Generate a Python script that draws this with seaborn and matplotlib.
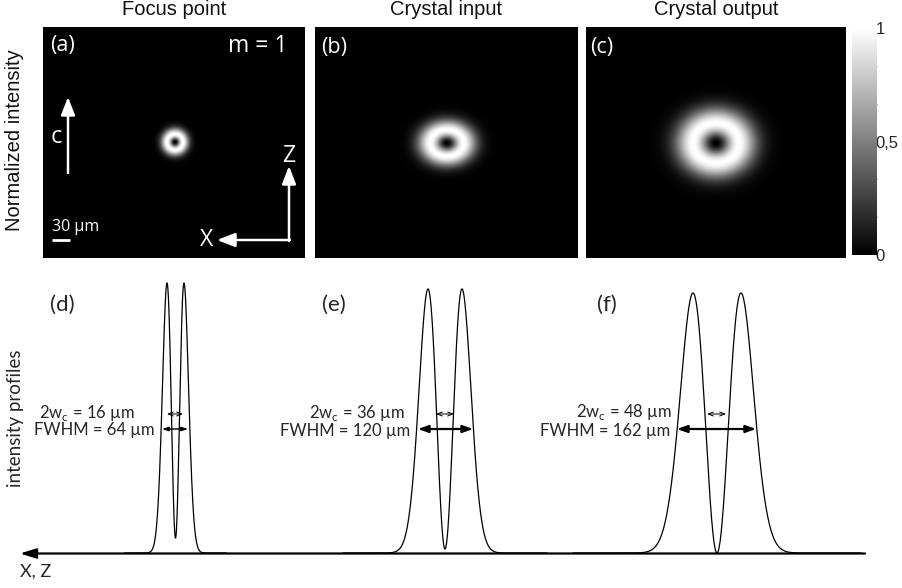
import numpy as np
import pandas as pd
import matplotlib
matplotlib.use("Agg")
import matplotlib.pyplot as plt
import seaborn as sns
from matplotlib.ticker import FixedLocator

# ---------------- data ----------------
panel_titles = ["Focus point", "Crystal input", "Crystal output"]
panel_letters = ["(a)", "(b)", "(c)"]
ring_radius_x = [8.0, 16.8, 23.0]     # ring peak radius (image px)
ring_radius_y = [8.0, 13.3, 20.0]
cbar_ticks = [0, 0.5, 1]
cbar_ticklabels = ["0", "0,5", "1"]

profile_letters = ["(d)", "(e)", "(f)"]
profile_center = [175.5, 445.0, 717.0]
profile_half_sep = [8.5, 17.0, 24.0]
profile_peak = [1.0, 0.978, 0.963]
profile_dip = [0.055, 0.015, 0.0]
wc_values = ["16 µm", "36 µm", "48 µm"]
fwhm_values = ["64 µm", "120 µm", "162 µm"]

# ---------------- layout helpers ----------------
W, H = 903, 588
sns.set_theme(style="white")
plt.rcParams["font.family"] = ["Liberation Sans", "DejaVu Sans"]
fig = plt.figure(figsize=(W / 100, H / 100), dpi=100)


def add_ax(x0, y0, x1, y1):
    return fig.add_axes([x0 / W, 1 - y1 / H, (x1 - x0) / W, (y1 - y0) / H])


# ---------------- top row: beam images ----------------
boxes = [(43, 27, 305, 258), (315, 27, 578, 258), (586, 27, 846, 258)]
centers = [(132, 115), (132, 116), (130, 116)]
cax = add_ax(852, 28, 877, 255)
for i, (bx, c, rx, ry) in enumerate(zip(boxes, centers, ring_radius_x, ring_radius_y)):
    ax = add_ax(*bx)
    nx, ny = bx[2] - bx[0], bx[3] - bx[1]
    xx, yy = np.meshgrid(np.arange(nx) + 0.5 - c[0], np.arange(ny) + 0.5 - c[1])
    u2 = (xx / (rx * np.sqrt(2))) ** 2 + (yy / (ry * np.sqrt(2))) ** 2
    field = 2 * np.e * u2 * np.exp(-2 * u2)
    last = i == 2
    sns.heatmap(field, ax=ax, cmap="gray", vmin=0, vmax=1, cbar=last,
                cbar_ax=cax if last else None, xticklabels=False,
                yticklabels=False, rasterized=True)
    ax.set_xlabel("")
    ax.set_ylabel("")
    cx = (bx[0] + bx[2]) / 2
    fig.text(cx / W, 1 - 15 / H, panel_titles[i], ha="center", va="baseline",
             fontsize=14.5, color="#111111")

cb = fig.axes[-1].collections[0].colorbar
cb.set_ticks(cbar_ticks)
cb.set_ticklabels(cbar_ticklabels)
cb.outline.set_visible(False)
cax.tick_params(axis="y", which="major", length=0, labelsize=12, pad=-1)
cax.yaxis.set_minor_locator(FixedLocator([1 / 6, 2 / 6, 4 / 6, 5 / 6]))
cax.tick_params(axis="y", which="minor", left=True, right=True, direction="in",
                length=3, width=0.8, color="#777777")

# ---------------- bottom row: profiles ----------------
bax = add_ax(0, 283, W, 553)
rows = []
for lab, xc, s, pk, dip in zip(profile_letters, profile_center, profile_half_sep,
                               profile_peak, profile_dip):
    d0 = 0.0
    for _ in range(20):
        d0 = 0.5 * dip * np.exp(-1 + 2 * d0)
    w = s / np.sqrt(0.5 - d0)
    x = np.linspace(xc - 6 * s, xc + 6 * s, 600)
    u = (x - xc) / w
    prof = (u ** 2 + d0) * np.exp(-2 * u ** 2)
    prof = prof / prof.max() * pk
    rows.append(pd.DataFrame({"x": x, "I": prof, "profile": lab}))
df = pd.concat(rows, ignore_index=True)
sns.lineplot(data=df, x="x", y="I", units="profile", estimator=None,
             color="black", lw=0.9, ax=bax, legend=False)
bax.set_xlim(0, W)
bax.set_ylim(0, 1)
bax.axis("off")
for ln in bax.lines:
    ln.set_clip_on(False)

# overlay axes in figure pixel coordinates for annotations
ov = fig.add_axes([0, 0, 1, 1], zorder=10)
ov.set_xlim(0, W)
ov.set_ylim(H, 0)
ov.axis("off")

# axis arrow of the profiles
ov.annotate("", xy=(20, 553.5), xytext=(865, 553.5),
            arrowprops=dict(arrowstyle="-|>,head_length=0.8,head_width=0.25",
                            lw=1.6, color="black", shrinkA=0, shrinkB=0))
pfont = ["Lato", "DejaVu Sans"]
ov.text(20, 572, "X, Z", ha="left", va="center", fontsize=13, family=pfont)
ov.text(16, 418, "intensity profiles", rotation=90, ha="center", va="center",
        fontsize=13.5, family=pfont)
ov.text(15, 140, "Normalized intensity", rotation=90, ha="center", va="center",
        fontsize=14.5, color="#111111")

letter_x = [50, 322, 597]
wc_arrows = [(167, 183), (436, 454), (707, 726)]
fwhm_arrows = [(162, 188), (418, 473), (677, 756)]
fwhm_lw = [1.0, 1.6, 1.6]
fwhm_head = [(0.3, 0.1), (0.5, 0.18), (0.5, 0.18)]
wc_text = [(135, 413), (405, 413), (672, 412)]
fwhm_text = [(155, 430), (410, 431), (670, 431)]
for i in range(3):
    ov.text(letter_x[i], 305, profile_letters[i], ha="left", va="center",
            fontsize=16, family=pfont)
    ov.text(*wc_text[i], "2w$_{\\mathregular{c}}$ = " + wc_values[i], ha="right",
            va="center", fontsize=12, family=pfont)
    ov.text(*fwhm_text[i], "FWHM = " + fwhm_values[i], ha="right",
            va="center", fontsize=12, family=pfont)
    a, b = wc_arrows[i]
    ov.annotate("", xy=(a, 414), xytext=(b, 414),
                arrowprops=dict(arrowstyle="<->,head_length=0.3,head_width=0.12",
                                lw=0.7, color="black", shrinkA=0, shrinkB=0))
    a, b = fwhm_arrows[i]
    hl, hw = fwhm_head[i]
    ov.annotate("", xy=(a, 429), xytext=(b, 429),
                arrowprops=dict(arrowstyle=f"<|-|>,head_length={hl},head_width={hw}",
                                lw=fwhm_lw[i], color="black", shrinkA=0, shrinkB=0))

# top annotations (white)
ofont = ["Open Sans", "DejaVu Sans"]
ov.text(50, 46, "(a)", ha="left", va="center", fontsize=15.5, color="white", family=ofont)
ov.text(321, 47, "(b)", ha="left", va="center", fontsize=15.5, color="white", family=ofont)
ov.text(590, 48, "(c)", ha="left", va="center", fontsize=15.5, color="white", family=ofont)
ov.text(287, 46, "m = 1", ha="right", va="center", fontsize=16.5, color="white", family=ofont)
ov.text(56, 137, "c", ha="center", va="center", fontsize=17, color="white", family=ofont)
ov.annotate("", xy=(68, 97), xytext=(68, 173),
            arrowprops=dict(arrowstyle="-|>,head_length=0.9,head_width=0.35",
                            lw=1.8, color="white", shrinkA=0, shrinkB=0))
ov.annotate("", xy=(289, 166), xytext=(289, 241),
            arrowprops=dict(arrowstyle="-|>,head_length=0.9,head_width=0.35",
                            lw=1.8, color="white", shrinkA=0, shrinkB=0))
ov.annotate("", xy=(217, 240), xytext=(290, 240),
            arrowprops=dict(arrowstyle="-|>,head_length=0.9,head_width=0.35",
                            lw=1.8, color="white", shrinkA=0, shrinkB=0))
ov.text(289, 156, "Z", ha="center", va="center", fontsize=16.5, color="white", family=ofont)
ov.text(207, 240, "X", ha="center", va="center", fontsize=16.5, color="white", family=ofont)
ov.text(52, 227, "30 µm", ha="left", va="center", fontsize=11.5, color="white", family=ofont)
ov.plot([52, 70], [239.5, 239.5], color="white", lw=2, solid_capstyle="butt")

fig.savefig("out.png", dpi=100)
